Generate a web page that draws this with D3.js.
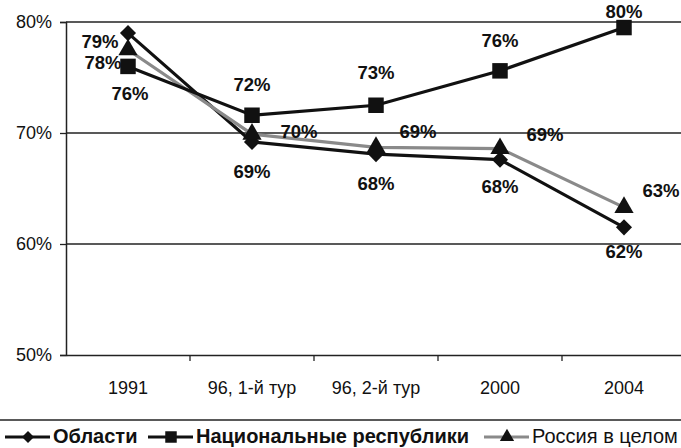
<!DOCTYPE html>
<meta charset="utf-8">
<html>
<head>
<script src="https://d3js.org/d3.v7.min.js"></script>
<style>
    body { margin: 0; background: white; }
    text { font-family: "Liberation Sans", Arial, sans-serif; fill: #111; }
    .tick-y { font-size: 18px; }
    .tick-x { font-size: 18px; }
    .lbl { font-size: 18.5px; font-weight: 700; }
    .leg { font-size: 20px; }
</style>
</head>
<body>
<div id="chart"></div>
<script>

// data
var categories = ["1991", "96, 1-й тур", "96, 2-й тур", "2000", "2004"];
var oblasti    = [79.0, 69.2, 68.1, 67.6, 61.5];
var natsResp   = [76.0, 71.6, 72.5, 75.6, 79.5];
var rossiya    = [77.5, 69.9, 68.7, 68.6, 63.3];
var yTicks     = [50, 60, 70, 80];
var seriesNames = ["Области", "Национальные республики", "Россия в целом"];

// label placement per point: offsets from the marker
var lblOblasti = [[-28, 10], [0, 31], [0, 31], [0, 28], [0, 26]];
var lblNats    = [[2, 29], [0, -29], [0, -31], [0, -29], [0, -14]];
var lblRossiya = [[-25, 14], [47, -1], [42, -14], [45, -12], [37, -15]];

const W = 681, H = 448;
const plotL = 66, plotT = 22, plotB = 355, plotR = 686;

const svg = d3.select("#chart").append("svg")
    .attr("width", W).attr("height", H);

var x = d3.scaleBand().domain(categories).range([plotL, plotR]);
var y = d3.scaleLinear().domain([50, 80]).range([plotB, plotT]);

// gridlines
svg.append("g").selectAll("line")
    .data(yTicks.filter(d => d > 50))
    .enter().append("line")
    .attr("x1", plotL).attr("x2", W)
    .attr("y1", d => y(d)).attr("y2", d => y(d))
    .attr("stroke", "#222").attr("stroke-width", 1.3);

// y axis
var axY = svg.append("g")
    .attr("transform", "translate(" + plotL + ",0)")
    .call(d3.axisLeft(y).tickValues(yTicks).tickFormat(d => d + "%").tickSize(6).tickPadding(8));
axY.select(".domain").attr("stroke", "#222").attr("stroke-width", 1.5);
axY.selectAll(".tick line").attr("stroke", "#222").attr("stroke-width", 1.3);
axY.selectAll("text").attr("class", "tick-y")
    .attr("font-family", null).attr("font-size", null).attr("fill", "#111");

// x axis
var axX = svg.append("g")
    .attr("transform", "translate(0," + plotB + ")")
    .call(d3.axisBottom(x).tickSize(0).tickPadding(26));
axX.select(".domain").attr("stroke", "#222").attr("stroke-width", 1.5);
axX.selectAll("text").attr("class", "tick-x")
    .attr("font-family", null).attr("font-size", null).attr("fill", "#111");
svg.append("g").selectAll("line")
    .data(categories.slice(1))
    .enter().append("line")
    .attr("x1", d => x(d)).attr("x2", d => x(d))
    .attr("y1", plotB).attr("y2", plotB + 6)
    .attr("stroke", "#222").attr("stroke-width", 1.3);

var cx = d => x(d) + x.bandwidth() / 2;

var series = [
    { name: seriesNames[0], vals: oblasti, color: "#111", shape: d3.symbolDiamond2, size: 165, lbl: lblOblasti, bold: true },
    { name: seriesNames[1], vals: natsResp, color: "#111", shape: d3.symbolSquare, size: 240, lbl: lblNats, bold: true },
    { name: seriesNames[2], vals: rossiya, color: "#8a8a8a", shape: d3.symbolTriangle, size: 160, lbl: lblRossiya, bold: false }
];

var line = d3.line()
    .x((d, i) => cx(categories[i]))
    .y(d => y(d));

// lines
[series[0], series[2], series[1]].forEach(function(s) {
    svg.append("path")
        .attr("d", line(s.vals))
        .attr("fill", "none")
        .attr("stroke", s.color)
        .attr("stroke-width", 3.2);
});

// markers (always black)
series.forEach(function(s) {
    svg.append("g").selectAll("path")
        .data(s.vals)
        .enter().append("path")
        .attr("d", d3.symbol().type(s.shape).size(s.size))
        .attr("transform", (d, i) => "translate(" + cx(categories[i]) + "," + y(d) + ")")
        .attr("fill", "#111");
});

// value labels
series.forEach(function(s) {
    svg.append("g").selectAll("text")
        .data(s.vals)
        .enter().append("text")
        .attr("class", "lbl")
        .attr("x", (d, i) => cx(categories[i]) + s.lbl[i][0])
        .attr("y", (d, i) => y(d) + s.lbl[i][1])
        .attr("text-anchor", "middle")
        .attr("dominant-baseline", "middle")
        .text(d => Math.round(d) + "%");
});

// legend
svg.append("line")
    .attr("x1", 0).attr("x2", W).attr("y1", 420).attr("y2", 420)
    .attr("stroke", "#222").attr("stroke-width", 1.5);

var legX = [5, 148, 484];
series.forEach(function(s, i) {
    var g = svg.append("g").attr("transform", "translate(" + legX[i] + ",437)");
    g.append("line").attr("x1", 0).attr("x2", 45)
        .attr("stroke", s.color).attr("stroke-width", 3.2);
    g.append("path")
        .attr("d", d3.symbol().type(s.shape).size(s.size * 0.55))
        .attr("transform", "translate(23,0)")
        .attr("fill", "#111");
    g.append("text")
        .attr("class", "leg")
        .attr("x", 48).attr("y", 1)
        .attr("font-weight", s.bold ? 700 : 400)
        .attr("dominant-baseline", "middle")
        .text(s.name);
});

</script>
</body>
</html>
